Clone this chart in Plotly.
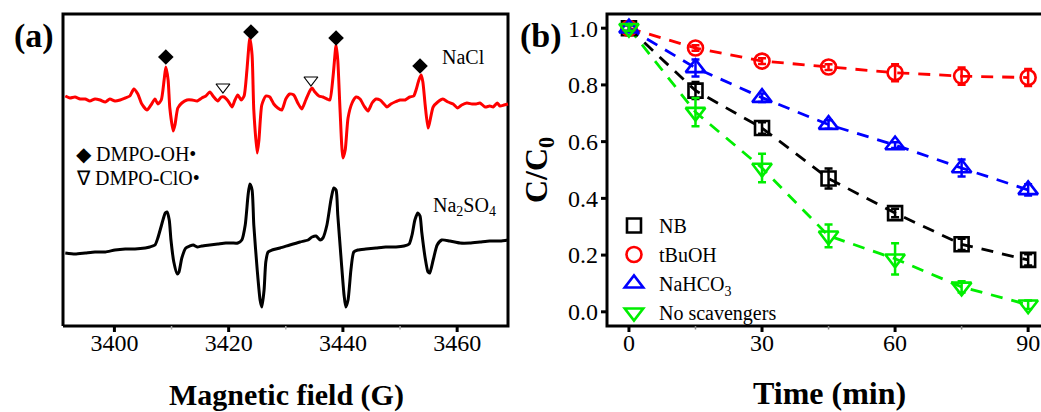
import plotly.graph_objects as go

# ---------------- Panel (a): EPR spectra (field in G, intensity in a.u.) ----------------
field_nacl = [3391.4, 3392.2, 3393.1, 3394.0, 3394.9, 3395.7, 3396.6, 3397.5, 3398.4, 3399.2,
              3400.1, 3401.0, 3401.9, 3402.7, 3403.4, 3404.1, 3404.8, 3405.7, 3406.4, 3407.1,
              3407.6, 3408.2, 3408.7, 3409.0, 3409.4, 3409.7, 3410.3, 3410.6, 3411.1, 3411.8,
              3412.7, 3413.6, 3414.5, 3415.3, 3416.0, 3416.7, 3417.4, 3418.1, 3418.7, 3419.2,
              3419.9, 3420.6, 3421.1, 3421.6, 3422.2, 3422.7, 3423.2, 3423.7, 3424.1, 3424.4,
              3425.0, 3425.3, 3425.8, 3426.5, 3427.2, 3427.9, 3428.6, 3429.3, 3430.0, 3430.7,
              3431.4, 3432.1, 3432.8, 3433.5, 3434.2, 3434.6, 3435.1, 3435.8, 3436.5, 3437.2,
              3437.7, 3438.3, 3438.8, 3439.1, 3439.5, 3440.0, 3440.4, 3440.9, 3441.6, 3442.3,
              3443.0, 3443.7, 3444.4, 3445.1, 3445.8, 3446.5, 3447.2, 3447.7, 3448.4, 3449.1,
              3450.0, 3450.9, 3451.7, 3452.4, 3452.8, 3453.3, 3453.7, 3454.0, 3454.4, 3454.9,
              3455.2, 3455.8, 3456.6, 3457.5, 3458.4, 3459.3, 3460.1, 3460.8, 3461.7, 3462.6,
              3463.3, 3464.0, 3464.9, 3465.7, 3466.3, 3467.0, 3467.5, 3468.2, 3468.9]
int_nacl = [230, 228, 229, 227, 227, 225, 227, 226, 224, 227,
            225, 226, 228, 230, 237, 232, 222, 216, 221, 227,
            222, 226, 246, 259, 246, 218, 195, 201, 218, 223,
            226, 226, 225, 228, 230, 234, 229, 225, 229, 229,
            225, 219, 226, 231, 226, 230, 256, 288, 271, 216,
            173, 186, 221, 230, 229, 222, 218, 216, 227, 232,
            231, 223, 217, 226, 235, 238, 234, 230, 229, 227,
            226, 251, 281, 266, 216, 168, 176, 208, 223, 229,
            227, 220, 215, 223, 227, 226, 222, 219, 222, 224,
            226, 226, 229, 230, 236, 246, 251, 244, 221, 198,
            204, 219, 224, 227, 224, 222, 218, 221, 223, 222,
            222, 223, 219, 220, 219, 223, 220, 221, 222]

field_na2so4 = [3391.4, 3393.1, 3394.9, 3396.6, 3398.4, 3400.1, 3401.9, 3403.6, 3405.4, 3406.2,
                3407.1, 3407.6, 3408.3, 3408.9, 3409.2, 3409.6, 3409.9, 3410.4, 3411.0, 3411.3,
                3411.8, 3412.5, 3413.2, 3413.8, 3414.5, 3415.3, 3416.7, 3418.1, 3419.5, 3420.6,
                3421.6, 3422.3, 3422.9, 3423.4, 3423.7, 3424.1, 3424.4, 3425.0, 3425.5, 3425.8,
                3426.2, 3426.5, 3426.9, 3427.6, 3429.0, 3430.7, 3432.5, 3433.9, 3434.6, 3435.3,
                3436.0, 3436.5, 3437.2, 3437.9, 3438.4, 3438.8, 3439.1, 3439.7, 3440.2, 3440.5,
                3440.9, 3441.4, 3441.9, 3442.6, 3444.0, 3445.8, 3447.5, 3449.3, 3450.7, 3451.6,
                3452.1, 3452.6, 3453.1, 3453.5, 3453.8, 3454.4, 3454.9, 3455.2, 3455.8, 3456.5,
                3457.3, 3458.7, 3460.5, 3462.2, 3464.0, 3465.7, 3467.5, 3468.9]
int_na2so4 = [73, 72, 73, 74, 74, 76, 77, 77, 78, 79,
              81, 88, 102, 113, 114, 106, 86, 64, 52, 54,
              68, 78, 80, 81, 79, 80, 81, 82, 83, 83,
              83, 86, 101, 131, 142, 136, 101, 56, 26, 19,
              36, 64, 74, 76, 78, 81, 84, 86, 89, 90,
              86, 88, 101, 126, 138, 136, 111, 66, 31, 19,
              26, 56, 74, 76, 77, 78, 79, 79, 80, 82,
              91, 106, 113, 110, 94, 68, 54, 53, 66, 81,
              86, 85, 83, 83, 84, 85, 85, 86]

oh_field = [3409.0, 3423.9, 3438.8, 3453.5]
oh_mark = [269, 294, 288, 260]
clo_field = [3419.0, 3434.4]
clo_mark = [239, 246]

field_frame = [3391.0, 3468.9]
int_frame = [0, 312]
field_ticks = [3400, 3420, 3440, 3460]
field_minor = [3410, 3430, 3450]

# ---------------- Panel (b): C/C0 vs time ----------------
time_min = [0, 15, 30, 45, 60, 75, 90]
time_frame = [-4.95, 92.9]
ratio_frame = [-0.05, 1.05]
time_ticks = [0, 30, 60, 90]
time_minor = [15, 45, 75]
ratio_ticks = [0.0, 0.2, 0.4, 0.6, 0.8, 1.0]
series_names = ["NB", "tBuOH", "NaHCO<sub>3</sub>", "No scavengers"]
nb = [1.0, 0.78, 0.648, 0.47, 0.348, 0.238, 0.183]
nb_err = [0.01, 0.03, 0.02, 0.035, 0.015, 0.02, 0.02]
tbuoh = [1.0, 0.93, 0.884, 0.863, 0.843, 0.831, 0.826]
tbuoh_err = [0.01, 0.01, 0.01, 0.01, 0.03, 0.03, 0.03]
nahco3 = [1.0, 0.86, 0.755, 0.66, 0.588, 0.507, 0.43]
nahco3_err = [0.01, 0.03, 0.015, 0.015, 0.01, 0.03, 0.02]
nosc = [1.0, 0.704, 0.507, 0.268, 0.187, 0.088, 0.025]
nosc_err = [0.01, 0.05, 0.05, 0.04, 0.055, 0.02, 0.015]

FONT = "Liberation Serif"
W, H = 1041, 412
E = 8  # px of room kept around each frame inside the subplot, for the tick marks

# frame boxes in pixels (left, right, top, bottom)
fa = (63, 508, 14, 326)
fb = (607, 1041, 14, 326)

# subplot domains = frame + E px
xdom_a = [(fa[0] - E) / W, (fa[1] + E) / W]
xdom_b = [(fb[0] - E) / W, 1.0]
ydom = [(H - fa[3] - E) / H, (H - fa[2] + E) / H]

# data units per pixel
ux_a = (field_frame[1] - field_frame[0]) / (fa[1] - fa[0])
uy_a = (int_frame[1] - int_frame[0]) / (fa[3] - fa[2])
ux_b = (time_frame[1] - time_frame[0]) / (1028 + (1041 - 1028) - fb[0])
uy_b = (ratio_frame[1] - ratio_frame[0]) / (fb[3] - fb[2])

xr_a = [field_frame[0] - E * ux_a, field_frame[1] + E * ux_a]
yr_a = [int_frame[0] - E * uy_a, int_frame[1] + E * uy_a]
xr_b = [time_frame[0] - E * ux_b, time_frame[1]]
yr_b = [ratio_frame[0] - E * uy_b, ratio_frame[1] + E * uy_b]

fig = go.Figure()


def seg_trace(xs, ys, color, width, xa, ya):
    fig.add_trace(go.Scatter(x=xs, y=ys, mode="lines", showlegend=False, hoverinfo="skip",
                             line=dict(color=color, width=width), xaxis=xa, yaxis=ya))


# ---- frames ----
seg_trace([field_frame[0], field_frame[1], field_frame[1], field_frame[0], field_frame[0]],
          [int_frame[0], int_frame[0], int_frame[1], int_frame[1], int_frame[0]],
          "black", 3, "x", "y")
seg_trace([xr_b[1], time_frame[0], time_frame[0], xr_b[1]],
          [ratio_frame[1], ratio_frame[1], ratio_frame[0], ratio_frame[0]],
          "black", 3, "x2", "y2")


# ---- tick marks (outward, inside the padded subplot) ----
def vticks(vals, y0, length, color, width, xa, ya):
    xs, ys = [], []
    for v in vals:
        xs += [v, v, None]
        ys += [y0, y0 - length, None]
    seg_trace(xs, ys, color, width, xa, ya)


def hticks(vals, x0, length, color, width, xa, ya):
    xs, ys = [], []
    for v in vals:
        xs += [x0, x0 - length, None]
        ys += [v, v, None]
    seg_trace(xs, ys, color, width, xa, ya)


vticks(field_ticks, int_frame[0], 6 * uy_a, "black", 3, "x", "y")
vticks(field_minor, int_frame[0], 3.5 * uy_a, "#aaaaaa", 1.5, "x", "y")
vticks(time_ticks, ratio_frame[0], 6 * uy_b, "black", 3, "x2", "y2")
vticks(time_minor, ratio_frame[0], 3.5 * uy_b, "#888888", 1.5, "x2", "y2")
hticks(ratio_ticks, time_frame[0], 6 * ux_b, "black", 3, "x2", "y2")

# ---- Spectra ----
fig.add_trace(go.Scatter(x=field_nacl, y=int_nacl, mode="lines",
                         line=dict(color="#ff0000", width=3, shape="spline", smoothing=0.6),
                         showlegend=False, xaxis="x", yaxis="y"))
fig.add_trace(go.Scatter(x=field_na2so4, y=int_na2so4, mode="lines",
                         line=dict(color="#000000", width=3, shape="spline", smoothing=0.6),
                         showlegend=False, xaxis="x", yaxis="y"))
fig.add_trace(go.Scatter(x=oh_field, y=oh_mark, mode="markers",
                         marker=dict(symbol="diamond", size=12, color="black"),
                         showlegend=False, xaxis="x", yaxis="y"))
fig.add_trace(go.Scatter(x=clo_field, y=clo_mark, mode="markers",
                         marker=dict(symbol="triangle-down-open", size=12, color="black",
                                     line=dict(width=1.2, color="black")),
                         showlegend=False, xaxis="x", yaxis="y"))

# ---- Kinetics ----
colors = ["#000000", "#ff0000", "#0000ff", "#00ee00"]
symbols = ["square-open", "circle-open", "triangle-up-open", "triangle-down-open"]
sizes = [14, 15, 17, 17]
ys = [nb, tbuoh, nahco3, nosc]
errs = [nb_err, tbuoh_err, nahco3_err, nosc_err]
for name, c, s, sz, y, e in zip(series_names, colors, symbols, sizes, ys, errs):
    fig.add_trace(go.Scatter(x=time_min, y=y, mode="lines",
                             line=dict(color=c, width=2.8, dash="12px,9px"),
                             showlegend=False, xaxis="x2", yaxis="y2"))
for name, c, s, sz, y, e in zip(series_names, colors, symbols, sizes, ys, errs):
    fig.add_trace(go.Scatter(x=time_min, y=y, mode="markers", name=name,
                             marker=dict(symbol=s, size=sz, color=c, line=dict(width=2.6, color=c)),
                             error_y=dict(type="data", array=e, color=c, thickness=2.5, width=4),
                             xaxis="x2", yaxis="y2"))

CLEAR = "rgba(0,0,0,0)"
common = dict(showgrid=False, zeroline=False, showline=False, ticks="")
fig.update_layout(
    width=W, height=H,
    margin=dict(l=0, r=0, t=0, b=0),
    paper_bgcolor="white", plot_bgcolor="white",
    font=dict(family=FONT, size=24, color="black"),
    xaxis=dict(domain=xdom_a, range=xr_a, tickmode="array", tickvals=field_ticks,
               tickfont=dict(size=24, family=FONT), anchor="y", **common),
    yaxis=dict(domain=ydom, range=yr_a, showticklabels=False, anchor="x", **common),
    xaxis2=dict(domain=xdom_b, range=xr_b, tickmode="array", tickvals=time_ticks,
                tickfont=dict(size=24, family=FONT), anchor="y2", **common),
    yaxis2=dict(domain=ydom, range=yr_b, anchor="x2", tickmode="array", tickvals=ratio_ticks,
                tickformat=".1f", tickfont=dict(size=24, family=FONT), **common),
    legend=dict(x=0.585, y=0.50, xanchor="left", yanchor="top", bgcolor=CLEAR,
                font=dict(size=20, family=FONT), tracegroupgap=0, itemwidth=40),
)
# pull the x tick labels back towards the frame (the subplot is padded by E px)
try:
    fig.update_layout(xaxis_ticklabelstandoff=-E, xaxis2_ticklabelstandoff=-E)
except Exception:
    pass

annotations = [
    dict(text="<b>(a)</b>", x=34, y=36, font=dict(size=34)),
    dict(text="<b>(b)</b>", x=541, y=36, font=dict(size=34)),
    dict(text="<b>Magnetic field (G)</b>", x=286, y=395, font=dict(size=30)),
    dict(text="<b>Time (min)</b>", x=829, y=393, font=dict(size=32)),
    dict(text="<b>C/C<sub>0</sub></b>", x=538, y=170, font=dict(size=32), textangle=-90),
    dict(text="NaCl", x=463, y=57, font=dict(size=20)),
    dict(text="Na<sub>2</sub>SO<sub>4</sub>", x=464, y=206, font=dict(size=20)),
    dict(text="\u25c6 DMPO-OH\u2022", x=74, y=154, font=dict(size=20), xanchor="left"),
    dict(text="\u2207 DMPO-ClO\u2022", x=74, y=178, font=dict(size=20), xanchor="left"),
]
for a in annotations:
    fig.add_annotation(text=a["text"], x=a["x"] / W, y=1 - a["y"] / H,
                       xref="paper", yref="paper", showarrow=False,
                       xanchor=a.get("xanchor", "center"), yanchor="middle",
                       textangle=a.get("textangle", 0),
                       font=dict(family=FONT, color="black", **a["font"]))

fig.write_html("out.html")
